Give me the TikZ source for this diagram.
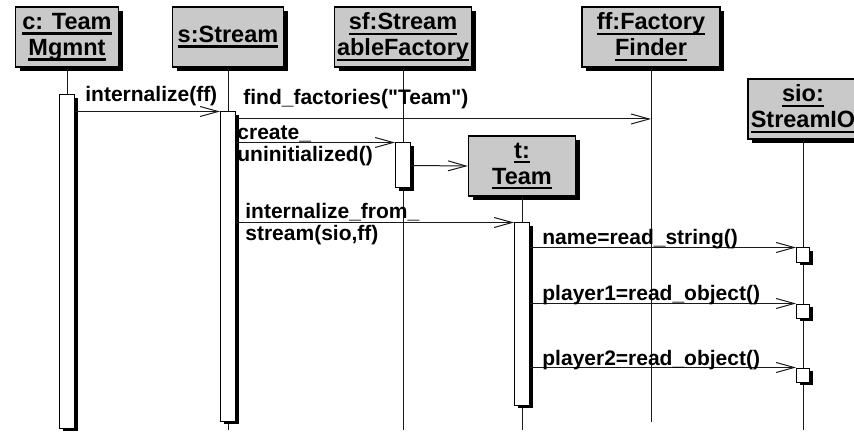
\documentclass[tikz,border=0pt]{standalone}
\usepackage{fontspec}
\setmainfont{Liberation Sans}[Ligatures=TeXOff]
\definecolor{objGray}{HTML}{C9C9C9}
\definecolor{lineDark}{HTML}{1A1A1A}
\usetikzlibrary{positioning,arrows.meta,calc,shadows}
\newsavebox{\ulbx}
\newcommand{\objul}[1]{\sbox{\ulbx}{#1}\rlap{\rule[-2.6pt]{\wd\ulbx}{1.2pt}}\usebox{\ulbx}}
\newcommand{\objnode}[5]{%
 \node[objbox, minimum width=#4] (#3) at (#1,#2) {#5};}
\newcommand{\actbar}[5][]{%
 \node[actbar, #1, minimum height={(#5-#4)*0.5pt}] (#2) at (#3,{(#4+#5)/2}) {};}
\tikzset{
 objbox/.style={draw=black, fill=objGray, line width=0.7pt, minimum height=30pt, inner sep=0pt, align=center,
  font=\fontsize{11.75}{13}\selectfont\bfseries,
  drop shadow={shadow xshift=2pt, shadow yshift=-2pt, opacity=1, fill=black}},
 actbar/.style={draw=black, fill=white, line width=0.5pt, minimum width=7.5pt, inner sep=0pt,
  drop shadow={shadow xshift=1.5pt, shadow yshift=-1.5pt, opacity=1, fill=black}},
 msg/.style={draw=lineDark, line width=0.5pt, -{Straight Barb[length=9pt, width=5pt]}},
 lifeline/.style={draw=lineDark, line width=0.5pt},
 msglabel/.style={anchor=base west, inner sep=0pt, align=left, font=\fontsize{10.5}{11}\selectfont\bfseries}
}

\begin{document}
\begin{tikzpicture}[x=0.5pt, y=-0.5pt]
\useasboundingbox (0,0) rectangle (854,432);
\objnode{67}{37}{cobj}{51.5pt}{\objul{c: Team}\\\objul{Mgmnt}}
\objnode{228}{37}{sobj}{55.5pt}{\objul{s:Stream}}
\objnode{403}{37}{sfobj}{68.5pt}{\objul{sf:Stream}\\\objul{ableFactory}}
\objnode{651}{37}{ffobj}{69pt}{\objul{ff:Factory}\\\objul{Finder}}
\objnode{803}{109}{sioobj}{55pt}{\objul{sio:}\\\objul{StreamIO}}
\objnode{522}{166}{tobj}{53.5pt}{\objul{t:}\\\objul{Team}}
\coordinate (bottom) at (0,430);
\coordinate (ffend) at (651,422);
\coordinate (ffhit) at (651,119);
\draw[lifeline] (cobj.south) -- (cobj.south |- bottom);
\draw[lifeline] (sobj.south) -- (sobj.south |- bottom);
\draw[lifeline] (sfobj.south) -- (sfobj.south |- bottom);
\draw[lifeline] (ffobj.south) -- (ffend);
\draw[lifeline] (tobj.south) -- (tobj.south |- bottom);
\draw[lifeline] (sioobj.south) -- (sioobj.south |- bottom);
\actbar{cact}{67}{95}{428}
\actbar{sact}{228}{112}{421}
\actbar{sfact}{403}{143}{188}
\actbar{tact}{522}{223}{405}
\actbar[minimum width=6.5pt]{sioact1}{803}{248}{262}
\actbar[minimum width=6.5pt]{sioact2}{803}{304}{318}
\actbar[minimum width=6.5pt]{sioact3}{803}{368}{382}
\draw[msg] (cact.east |- sact.north west) -- (sact.north west);
\draw[msg] (sact.east |- ffhit) -- (ffhit);
\draw[msg] (sact.east |- sfact.north west) -- (sfact.north west);
\draw[msg] (sfact.east) -- (tobj.west);
\draw[msg] (sact.east |- tact.north west) -- (tact.north west);
\draw[msg] (tact.east |- sioact1.north west) -- (sioact1.north west);
\draw[msg] (tact.east |- sioact2.north west) -- (sioact2.north west);
\draw[msg] (tact.east |- sioact3.north west) -- (sioact3.north west);
\node[msglabel] (lblint) at (85,102) {internalize(ff)};
\node[msglabel] (lblfind) at (243,105) {find\_factories("Team")};
\node[msglabel] (lblcreate) at (237,162) {create\_\\uninitialized()};
\node[msglabel] (lblstream) at (245,241) {internalize\_from\_\\stream(sio,ff)};
\node[msglabel] (lblname) at (542,244) {name=read\_string()};
\node[msglabel] (lblplayera) at (542,300) {player1=read\_object()};
\node[msglabel] (lblplayerb) at (542,365) {player2=read\_object()};
\end{tikzpicture}
\end{document}
